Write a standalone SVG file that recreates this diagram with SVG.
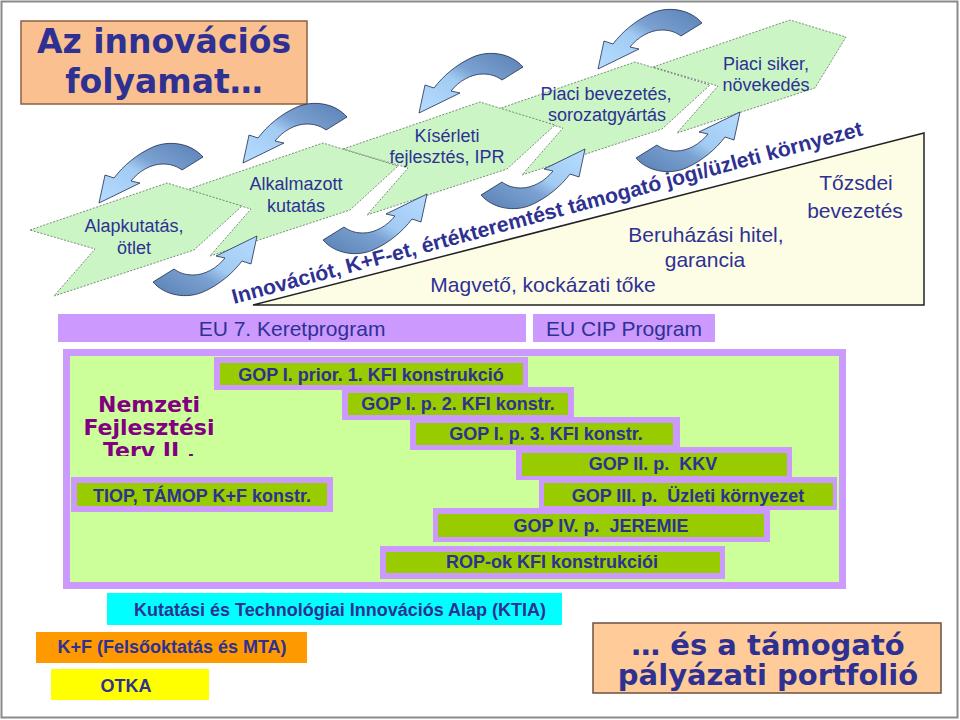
<svg xmlns="http://www.w3.org/2000/svg" width="960" height="720" viewBox="0 0 960 720">
<style>
.nv{fill:#2E3192;font-family:"Liberation Sans",Arial,sans-serif}
.ch{font-size:18px;text-anchor:middle}
.wd{font-size:21px;text-anchor:middle}
.bb{font-size:18px;font-weight:bold;text-anchor:middle}
.big{font-family:"DejaVu Sans",Verdana,sans-serif;font-weight:bold;fill:#2E3192;text-anchor:middle}
.chev{fill:#CCF5C6;stroke:#5E6E5E;stroke-width:0.8;stroke-dasharray:2 1.5}
.pu{fill:#CC99FF}
.ol{fill:#99CC00}
</style>
<defs>
<linearGradient id="ag" x1="1" y1="0" x2="0" y2="1">
<stop offset="0" stop-color="#5A80B4"/>
<stop offset="0.4" stop-color="#7AA1D1"/>
<stop offset="0.55" stop-color="#A2CBF3"/>
<stop offset="1" stop-color="#B6DCFF"/>
</linearGradient>
<path id="carrow" d="M0,0 C-12,-14 -34,-17 -50,-10 C-66,-3 -80,9 -89,21 L-98,18 L-104,46 L-63,26 L-72,24 C-64,14 -52,7 -40,7 C-31,7 -25,10 -21,13 Z" fill="url(#ag)" stroke="#1E2D4D" stroke-width="0.8"/>
<clipPath id="nfclip"><rect x="60" y="380" width="200" height="76"/></clipPath>
</defs>
<rect width="960" height="720" fill="#FFFFFF"/>
<rect x="1.5" y="1.5" width="956" height="716" fill="none" stroke="#8A8A8A" stroke-width="2"/>

<g id="title">
<rect x="21" y="21" width="286" height="83" fill="#FAC090" stroke="#8B6040" stroke-width="1.5"/>
<text class="big" x="164" y="53" font-size="33">Az innovációs</text>
<text class="big" x="164" y="93" font-size="33">folyamat…</text>
</g>

<g id="wedge">
<polygon points="253,305 924,133 924,305" fill="#FDFDE6" stroke="#222222" stroke-width="1.5"/>
<text class="nv wd" x="856" y="190">Tőzsdei</text>
<text class="nv wd" x="855" y="218">bevezetés</text>
<text class="nv wd" x="706" y="242">Beruházási hitel,</text>
<text class="nv wd" x="705" y="267">garancia</text>
<text class="nv wd" x="543" y="292">Magvető, kockázati tőke</text>
</g>

<g id="chev5"><polygon class="chev" points="653,67 790,20 846,37 815,88 677,133 718,86"/>
<text class="nv ch" x="766" y="70">Piaci siker,</text><text class="nv ch" x="766" y="91">növekedés</text></g>
<g id="chev4"><polygon class="chev" points="498,109 635,62 710,85 662,129 522,175 563,128"/>
<text class="nv ch" x="606" y="100">Piaci bevezetés,</text><text class="nv ch" x="607" y="121">sorozatgyártás</text></g>
<g id="chev3"><polygon class="chev" points="343,149 480,102 555,125 507,169 367,215 408,168"/>
<text class="nv ch" x="447" y="142">Kísérleti</text><text class="nv ch" x="447" y="163">fejlesztés, IPR</text></g>
<g id="chev2"><polygon class="chev" points="186,190 323,143 398,166 350,210 210,256 251,209"/>
<text class="nv ch" x="296" y="190">Alkalmazott</text><text class="nv ch" x="296" y="212">kutatás</text></g>
<g id="chev1"><polygon class="chev" points="30,230 167,183 242,206 194,250 54,296 95,249"/>
<text class="nv ch" x="134" y="232">Alapkutatás,</text><text class="nv ch" x="134" y="254">ötlet</text></g>

<g id="connectors">
<use href="#carrow" transform="translate(203,157)"/>
<use href="#carrow" transform="translate(347,117)"/>
<use href="#carrow" transform="translate(523,67)"/>
<use href="#carrow" transform="translate(702,23)"/>
<use href="#carrow" transform="translate(153,282) rotate(180)"/>
<use href="#carrow" transform="translate(323,240) rotate(180)"/>
<use href="#carrow" transform="translate(481,195) rotate(180)"/>
<use href="#carrow" transform="translate(636,158) rotate(180)"/>
</g>

<g id="slogan">
<text class="nv" transform="translate(234,304) rotate(-15)" font-size="21" font-weight="bold" textLength="652" lengthAdjust="spacingAndGlyphs">Innovációt, K+F-et, értékteremtést támogató jogi/üzleti környezet</text>
</g>

<g id="eu7">
<rect class="pu" x="58" y="314" width="468" height="28"/>
<text class="nv" x="292" y="336" font-size="21" text-anchor="middle">EU 7. Keretprogram</text>
</g>
<g id="eucip">
<rect class="pu" x="533" y="314" width="182" height="28"/>
<text class="nv" x="624" y="336" font-size="21" text-anchor="middle">EU CIP Program</text>
</g>

<g id="nft">
<rect x="66.5" y="352.5" width="776" height="233" fill="#CCFF99" stroke="#CC99FF" stroke-width="7"/>
<g clip-path="url(#nfclip)" font-family="'DejaVu Sans',Verdana,sans-serif" font-weight="bold" font-size="22" fill="#800080" text-anchor="middle">
<text x="149" y="412">Nemzeti</text>
<text x="149" y="435">Fejlesztési</text>
<text x="149" y="458">Terv II .</text>
</g>
</g>

<g id="gop1"><rect class="pu" x="214" y="357" width="314" height="33"/><rect class="ol" x="220" y="363" width="303" height="22"/>
<text class="nv bb" x="371" y="381">GOP I. prior. 1. KFI konstrukció</text></g>
<g id="gop2"><rect class="pu" x="342" y="387" width="232" height="33"/><rect class="ol" x="348" y="393" width="220" height="22"/>
<text class="nv bb" x="458" y="410">GOP I. p. 2. KFI konstr.</text></g>
<g id="gop3"><rect class="pu" x="410" y="417" width="270" height="33"/><rect class="ol" x="416" y="423" width="257" height="22"/>
<text class="nv bb" x="546" y="440">GOP I. p. 3. KFI konstr.</text></g>
<g id="gop4"><rect class="pu" x="516" y="447" width="276" height="33"/><rect class="ol" x="522" y="453" width="265" height="23"/>
<text class="nv bb" x="653" y="470" xml:space="preserve">GOP II. p.  KKV</text></g>
<g id="gop5"><rect class="pu" x="539" y="477" width="298" height="33"/><rect class="ol" x="544" y="483" width="289" height="23"/>
<text class="nv bb" x="688" y="502" xml:space="preserve">GOP III. p.  Üzleti környezet</text></g>
<g id="gop6"><rect class="pu" x="433" y="508" width="337" height="34"/><rect class="ol" x="438" y="514" width="326" height="23"/>
<text class="nv bb" x="601" y="532" xml:space="preserve">GOP IV. p.  JEREMIE</text></g>
<g id="rop"><rect class="pu" x="380" y="546" width="345" height="33"/><rect class="ol" x="386" y="552" width="334" height="21"/>
<text class="nv bb" x="552" y="568">ROP-ok KFI konstrukciói</text></g>
<g id="tiop"><rect class="pu" x="71" y="477" width="262" height="35"/><rect class="ol" x="77" y="483" width="250" height="23"/>
<text class="nv bb" x="202" y="502">TIOP, TÁMOP K+F konstr.</text></g>

<g id="ktia"><rect x="107" y="593" width="455" height="32" fill="#00FFFF"/>
<text class="nv bb" x="340" y="616">Kutatási és Technológiai Innovációs Alap (KTIA)</text></g>
<g id="kf"><rect x="36" y="632" width="271" height="31" fill="#FF9900"/>
<text class="nv bb" x="172" y="653">K+F (Felsőoktatás és MTA)</text></g>
<g id="otka"><rect x="51" y="669" width="158" height="31" fill="#FFFF00"/>
<text class="nv bb" x="126" y="692">OTKA</text></g>

<g id="portfolio">
<rect x="593" y="623" width="348" height="70" fill="#FFCC99" stroke="#6B5040" stroke-width="1.5"/>
<text class="big" x="768" y="655" font-size="29">… és a támogató</text>
<text class="big" x="768" y="685" font-size="29">pályázati portfolió</text>
</g>
</svg>
